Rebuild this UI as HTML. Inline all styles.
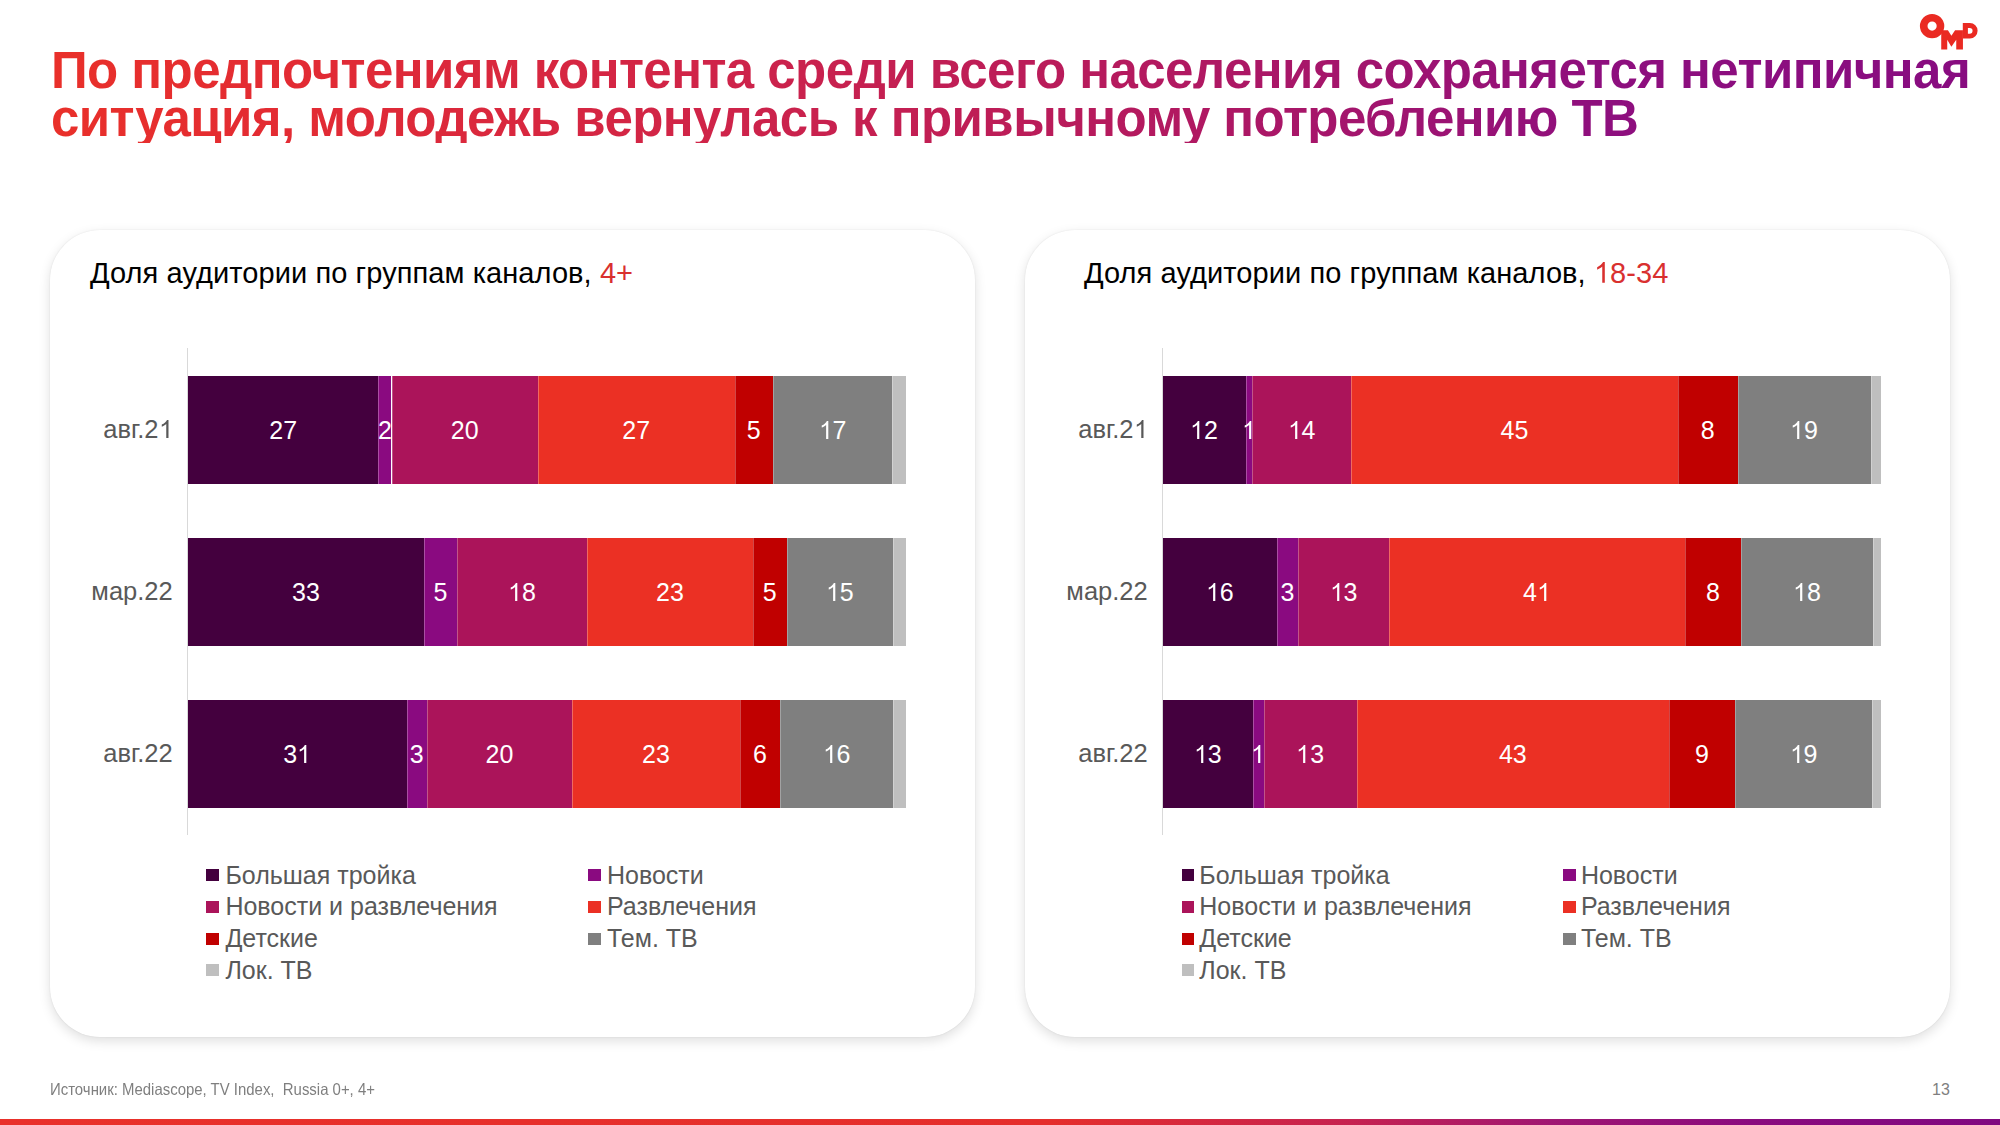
<!DOCTYPE html>
<html><head><meta charset="utf-8">
<style>
html,body{margin:0;padding:0;background:#fff;}
body{width:2000px;height:1125px;position:relative;overflow:hidden;font-family:"Liberation Sans",sans-serif;}
.abs{position:absolute;}
.title{position:absolute;left:51px;top:47px;width:1930px;font-weight:bold;font-size:51px;line-height:48px;letter-spacing:-0.55px;white-space:nowrap;
  background:linear-gradient(90deg,#E9302A 0px,#E22B34 260px,#D02448 650px,#B01862 1150px,#8E0F7E 1550px,#880C80 1911px);-webkit-background-clip:text;background-clip:text;color:transparent;}
.panel{position:absolute;top:229.5px;width:925px;height:807px;border-radius:50px;background:#fff;
  box-shadow:0 0 1.5px rgba(0,0,0,0.10),0 4px 12px rgba(0,0,0,0.13);}
.ptitle{position:absolute;font-size:29px;line-height:32px;letter-spacing:0.08px;color:#000;white-space:nowrap;}
.ptitle span{color:#D9302F;}
.axis{position:absolute;width:1px;background:#D9D9D9;top:348px;height:487px;}
.seg{position:absolute;height:108px;}
.sep{box-shadow:inset 1px 0 0 rgba(255,255,255,0.28);}
.dl{position:absolute;width:80px;height:108px;line-height:108px;text-align:center;color:#fff;font-size:25px;}
.cat{position:absolute;width:150px;height:108px;line-height:108px;text-align:right;color:#595959;font-size:25.5px;}
.one{display:inline-block;position:relative;width:0.5562em;height:0.7188em;}
.one svg{position:absolute;left:0;bottom:0;width:100%;height:100%;fill:currentColor;}
.lsq{position:absolute;width:12.5px;height:12px;}
.ltx{position:absolute;font-size:25px;line-height:30px;color:#595959;white-space:nowrap;}
.foot{position:absolute;left:50px;top:1078.5px;font-size:16.5px;line-height:20px;transform:scaleX(0.905);transform-origin:0 0;color:#7F7F7F;white-space:nowrap;}
.pnum{position:absolute;left:1932px;top:1079.5px;font-size:16px;line-height:20px;color:#7F7F7F;}
.bottombar{position:absolute;left:0;top:1118.5px;width:2000px;height:7px;background:linear-gradient(90deg,#E9302A 0px,#E52E2C 1050px,#C62250 1350px,#A01672 1550px,#8A0A7E 1750px,#800880 2000px);}
</style></head><body>
<div class="title">По предпочтениям контента среди всего населения сохраняется нетипичная<br>ситуация, молодежь вернулась к привычному потреблению ТВ</div>
<svg class="abs" style="left:1915px;top:10px" width="70" height="45" viewBox="0 0 70 45">
  <circle cx="17.1" cy="16.1" r="8.4" fill="none" stroke="#EA2A22" stroke-width="7.6"/>
  <path d="M26.23,39.56 V20.16 H32.93 L36.39,25.7 L40.09,20.16 H47.94 V39.56 H41.24 V29.86 L36.39,36.79 L32.24,29.86 V39.56 Z" fill="#EA2A22"/>
  <path d="M47.8,13.1 H54.9 A7.7,7.7 0 0 1 54.9,28.5 H47.8 Z M52.9,18 V23.7 H54.7 A2.85,2.85 0 0 0 54.7,18 Z" fill="#EA2A22" fill-rule="evenodd"/>
</svg>
<div class="panel" style="left:50px"></div>
<div class="panel" style="left:1025px"></div>
<div class="ptitle" style="left:90px;top:257px">Доля аудитории по группам каналов, <span>4+</span></div>
<div class="ptitle" style="left:1084px;top:257px">Доля аудитории по группам каналов, <span><span class="one"><svg viewBox="0 0 1139 1472" preserveAspectRatio="none"><path d="M763 1472H583V325Q518 387 413 449T223 542V368Q373 297 485 196T643 0H763Z"/></svg></span>8-34</span></div>
<div class="axis" style="left:187px"></div>
<div class="axis" style="left:1162px"></div>
<div class="cat" style="left:22.69999999999999px;top:375px">авг.2<span class="one"><svg viewBox="0 0 1139 1472" preserveAspectRatio="none"><path d="M763 1472H583V325Q518 387 413 449T223 542V368Q373 297 485 196T643 0H763Z"/></svg></span></div>
<div class="cat" style="left:22.69999999999999px;top:537px">мар.22</div>
<div class="cat" style="left:22.69999999999999px;top:699px">авг.22</div>
<div class="cat" style="left:997.7px;top:375px">авг.2<span class="one"><svg viewBox="0 0 1139 1472" preserveAspectRatio="none"><path d="M763 1472H583V325Q518 387 413 449T223 542V368Q373 297 485 196T643 0H763Z"/></svg></span></div>
<div class="cat" style="left:997.7px;top:537px">мар.22</div>
<div class="cat" style="left:997.7px;top:699px">авг.22</div>
<div class="seg" style="left:188.00px;top:376px;width:190.30px;background:#44003E"></div>
<div class="seg sep" style="left:378.30px;top:376px;width:13.20px;background:#8A0A80"></div>
<div class="seg sep" style="left:391.50px;top:376px;width:146.50px;background:#AB145A"></div>
<div class="seg sep" style="left:538.00px;top:376px;width:196.50px;background:#EB3024"></div>
<div class="seg sep" style="left:734.50px;top:376px;width:38.50px;background:#C00000"></div>
<div class="seg sep" style="left:773.00px;top:376px;width:119.00px;background:#7F7F7F"></div>
<div class="seg sep" style="left:892.00px;top:376px;width:14.40px;background:#BFBFBF"></div>
<div class="dl" style="left:243.15px;top:376px">27</div>
<div class="dl" style="left:344.90px;top:376px">2</div>
<div class="dl" style="left:424.75px;top:376px">20</div>
<div class="dl" style="left:596.25px;top:376px">27</div>
<div class="dl" style="left:713.75px;top:376px">5</div>
<div class="dl" style="left:792.50px;top:376px"><span class="one"><svg viewBox="0 0 1139 1472" preserveAspectRatio="none"><path d="M763 1472H583V325Q518 387 413 449T223 542V368Q373 297 485 196T643 0H763Z"/></svg></span>7</div>
<div class="seg" style="left:188.00px;top:538px;width:236.00px;background:#44003E"></div>
<div class="seg sep" style="left:424.00px;top:538px;width:33.00px;background:#8A0A80"></div>
<div class="seg sep" style="left:457.00px;top:538px;width:130.00px;background:#AB145A"></div>
<div class="seg sep" style="left:587.00px;top:538px;width:166.00px;background:#EB3024"></div>
<div class="seg sep" style="left:753.00px;top:538px;width:33.50px;background:#C00000"></div>
<div class="seg sep" style="left:786.50px;top:538px;width:106.50px;background:#7F7F7F"></div>
<div class="seg sep" style="left:893.00px;top:538px;width:13.40px;background:#BFBFBF"></div>
<div class="dl" style="left:266.00px;top:538px">33</div>
<div class="dl" style="left:400.50px;top:538px">5</div>
<div class="dl" style="left:482.00px;top:538px"><span class="one"><svg viewBox="0 0 1139 1472" preserveAspectRatio="none"><path d="M763 1472H583V325Q518 387 413 449T223 542V368Q373 297 485 196T643 0H763Z"/></svg></span>8</div>
<div class="dl" style="left:630.00px;top:538px">23</div>
<div class="dl" style="left:729.75px;top:538px">5</div>
<div class="dl" style="left:799.75px;top:538px"><span class="one"><svg viewBox="0 0 1139 1472" preserveAspectRatio="none"><path d="M763 1472H583V325Q518 387 413 449T223 542V368Q373 297 485 196T643 0H763Z"/></svg></span>5</div>
<div class="seg" style="left:188.00px;top:700px;width:218.50px;background:#44003E"></div>
<div class="seg sep" style="left:406.50px;top:700px;width:20.50px;background:#8A0A80"></div>
<div class="seg sep" style="left:427.00px;top:700px;width:145.00px;background:#AB145A"></div>
<div class="seg sep" style="left:572.00px;top:700px;width:168.00px;background:#EB3024"></div>
<div class="seg sep" style="left:740.00px;top:700px;width:40.00px;background:#C00000"></div>
<div class="seg sep" style="left:780.00px;top:700px;width:113.00px;background:#7F7F7F"></div>
<div class="seg sep" style="left:893.00px;top:700px;width:13.40px;background:#BFBFBF"></div>
<div class="dl" style="left:257.25px;top:700px">3<span class="one"><svg viewBox="0 0 1139 1472" preserveAspectRatio="none"><path d="M763 1472H583V325Q518 387 413 449T223 542V368Q373 297 485 196T643 0H763Z"/></svg></span></div>
<div class="dl" style="left:376.75px;top:700px">3</div>
<div class="dl" style="left:459.50px;top:700px">20</div>
<div class="dl" style="left:616.00px;top:700px">23</div>
<div class="dl" style="left:720.00px;top:700px">6</div>
<div class="dl" style="left:796.50px;top:700px"><span class="one"><svg viewBox="0 0 1139 1472" preserveAspectRatio="none"><path d="M763 1472H583V325Q518 387 413 449T223 542V368Q373 297 485 196T643 0H763Z"/></svg></span>6</div>
<div class="seg" style="left:1162.50px;top:376px;width:83.00px;background:#44003E"></div>
<div class="seg sep" style="left:1245.50px;top:376px;width:6.50px;background:#8A0A80"></div>
<div class="seg sep" style="left:1252.00px;top:376px;width:99.00px;background:#AB145A"></div>
<div class="seg sep" style="left:1351.00px;top:376px;width:327.00px;background:#EB3024"></div>
<div class="seg sep" style="left:1678.00px;top:376px;width:59.50px;background:#C00000"></div>
<div class="seg sep" style="left:1737.50px;top:376px;width:133.10px;background:#7F7F7F"></div>
<div class="seg sep" style="left:1870.60px;top:376px;width:10.00px;background:#BFBFBF"></div>
<div class="dl" style="left:1164.00px;top:376px"><span class="one"><svg viewBox="0 0 1139 1472" preserveAspectRatio="none"><path d="M763 1472H583V325Q518 387 413 449T223 542V368Q373 297 485 196T643 0H763Z"/></svg></span>2</div>
<div class="dl" style="left:1208.75px;top:376px"><span class="one"><svg viewBox="0 0 1139 1472" preserveAspectRatio="none"><path d="M763 1472H583V325Q518 387 413 449T223 542V368Q373 297 485 196T643 0H763Z"/></svg></span></div>
<div class="dl" style="left:1261.50px;top:376px"><span class="one"><svg viewBox="0 0 1139 1472" preserveAspectRatio="none"><path d="M763 1472H583V325Q518 387 413 449T223 542V368Q373 297 485 196T643 0H763Z"/></svg></span>4</div>
<div class="dl" style="left:1474.50px;top:376px">45</div>
<div class="dl" style="left:1667.75px;top:376px">8</div>
<div class="dl" style="left:1764.05px;top:376px"><span class="one"><svg viewBox="0 0 1139 1472" preserveAspectRatio="none"><path d="M763 1472H583V325Q518 387 413 449T223 542V368Q373 297 485 196T643 0H763Z"/></svg></span>9</div>
<div class="seg" style="left:1162.50px;top:538px;width:114.50px;background:#44003E"></div>
<div class="seg sep" style="left:1277.00px;top:538px;width:21.00px;background:#8A0A80"></div>
<div class="seg sep" style="left:1298.00px;top:538px;width:91.00px;background:#AB145A"></div>
<div class="seg sep" style="left:1389.00px;top:538px;width:296.00px;background:#EB3024"></div>
<div class="seg sep" style="left:1685.00px;top:538px;width:56.00px;background:#C00000"></div>
<div class="seg sep" style="left:1741.00px;top:538px;width:132.00px;background:#7F7F7F"></div>
<div class="seg sep" style="left:1873.00px;top:538px;width:7.60px;background:#BFBFBF"></div>
<div class="dl" style="left:1179.75px;top:538px"><span class="one"><svg viewBox="0 0 1139 1472" preserveAspectRatio="none"><path d="M763 1472H583V325Q518 387 413 449T223 542V368Q373 297 485 196T643 0H763Z"/></svg></span>6</div>
<div class="dl" style="left:1247.50px;top:538px">3</div>
<div class="dl" style="left:1303.50px;top:538px"><span class="one"><svg viewBox="0 0 1139 1472" preserveAspectRatio="none"><path d="M763 1472H583V325Q518 387 413 449T223 542V368Q373 297 485 196T643 0H763Z"/></svg></span>3</div>
<div class="dl" style="left:1497.00px;top:538px">4<span class="one"><svg viewBox="0 0 1139 1472" preserveAspectRatio="none"><path d="M763 1472H583V325Q518 387 413 449T223 542V368Q373 297 485 196T643 0H763Z"/></svg></span></div>
<div class="dl" style="left:1673.00px;top:538px">8</div>
<div class="dl" style="left:1767.00px;top:538px"><span class="one"><svg viewBox="0 0 1139 1472" preserveAspectRatio="none"><path d="M763 1472H583V325Q518 387 413 449T223 542V368Q373 297 485 196T643 0H763Z"/></svg></span>8</div>
<div class="seg" style="left:1162.50px;top:700px;width:90.50px;background:#44003E"></div>
<div class="seg sep" style="left:1253.00px;top:700px;width:10.50px;background:#8A0A80"></div>
<div class="seg sep" style="left:1263.50px;top:700px;width:93.50px;background:#AB145A"></div>
<div class="seg sep" style="left:1357.00px;top:700px;width:311.75px;background:#EB3024"></div>
<div class="seg sep" style="left:1668.75px;top:700px;width:66.25px;background:#C00000"></div>
<div class="seg sep" style="left:1735.00px;top:700px;width:137.00px;background:#7F7F7F"></div>
<div class="seg sep" style="left:1872.00px;top:700px;width:8.60px;background:#BFBFBF"></div>
<div class="dl" style="left:1167.75px;top:700px"><span class="one"><svg viewBox="0 0 1139 1472" preserveAspectRatio="none"><path d="M763 1472H583V325Q518 387 413 449T223 542V368Q373 297 485 196T643 0H763Z"/></svg></span>3</div>
<div class="dl" style="left:1218.25px;top:700px"><span class="one"><svg viewBox="0 0 1139 1472" preserveAspectRatio="none"><path d="M763 1472H583V325Q518 387 413 449T223 542V368Q373 297 485 196T643 0H763Z"/></svg></span></div>
<div class="dl" style="left:1270.25px;top:700px"><span class="one"><svg viewBox="0 0 1139 1472" preserveAspectRatio="none"><path d="M763 1472H583V325Q518 387 413 449T223 542V368Q373 297 485 196T643 0H763Z"/></svg></span>3</div>
<div class="dl" style="left:1472.88px;top:700px">43</div>
<div class="dl" style="left:1661.88px;top:700px">9</div>
<div class="dl" style="left:1763.50px;top:700px"><span class="one"><svg viewBox="0 0 1139 1472" preserveAspectRatio="none"><path d="M763 1472H583V325Q518 387 413 449T223 542V368Q373 297 485 196T643 0H763Z"/></svg></span>9</div>
<div class="lsq" style="left:206.4px;top:869.3px;background:#44003E"></div>
<div class="ltx" style="left:225.4px;top:859.8px">Большая тройка</div>
<div class="lsq" style="left:588.0px;top:869.3px;background:#8A0A80"></div>
<div class="ltx" style="left:607.0px;top:859.8px">Новости</div>
<div class="lsq" style="left:206.4px;top:900.9px;background:#AB145A"></div>
<div class="ltx" style="left:225.4px;top:891.4px">Новости и развлечения</div>
<div class="lsq" style="left:588.0px;top:900.9px;background:#EB3024"></div>
<div class="ltx" style="left:607.0px;top:891.4px">Развлечения</div>
<div class="lsq" style="left:206.4px;top:932.5px;background:#C00000"></div>
<div class="ltx" style="left:225.4px;top:923.0px">Детские</div>
<div class="lsq" style="left:588.0px;top:932.5px;background:#7F7F7F"></div>
<div class="ltx" style="left:607.0px;top:923.0px">Тем. ТВ</div>
<div class="lsq" style="left:206.4px;top:964.1px;background:#BFBFBF"></div>
<div class="ltx" style="left:225.4px;top:954.6px">Лок. ТВ</div>
<div class="lsq" style="left:1181.5px;top:869.3px;background:#44003E"></div>
<div class="ltx" style="left:1199.3px;top:859.8px">Большая тройка</div>
<div class="lsq" style="left:1563.1px;top:869.3px;background:#8A0A80"></div>
<div class="ltx" style="left:1580.9px;top:859.8px">Новости</div>
<div class="lsq" style="left:1181.5px;top:900.9px;background:#AB145A"></div>
<div class="ltx" style="left:1199.3px;top:891.4px">Новости и развлечения</div>
<div class="lsq" style="left:1563.1px;top:900.9px;background:#EB3024"></div>
<div class="ltx" style="left:1580.9px;top:891.4px">Развлечения</div>
<div class="lsq" style="left:1181.5px;top:932.5px;background:#C00000"></div>
<div class="ltx" style="left:1199.3px;top:923.0px">Детские</div>
<div class="lsq" style="left:1563.1px;top:932.5px;background:#7F7F7F"></div>
<div class="ltx" style="left:1580.9px;top:923.0px">Тем. ТВ</div>
<div class="lsq" style="left:1181.5px;top:964.1px;background:#BFBFBF"></div>
<div class="ltx" style="left:1199.3px;top:954.6px">Лок. ТВ</div>
<div class="foot">Источник: Mediascope, TV Index,&nbsp; Russia 0+, 4+</div>
<div class="pnum">13</div>
<div class="bottombar"></div>
</body></html>
